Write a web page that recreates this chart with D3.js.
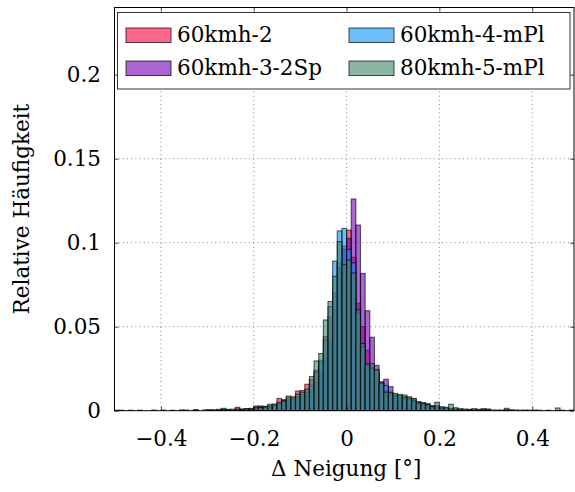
<!DOCTYPE html>
<html>
<head>
<meta charset="utf-8">
<script src="https://cdn.jsdelivr.net/npm/d3@7"></script>
<style>
  body { margin: 0; background: #fff; }
  svg text { font-family: "DejaVu Serif", "Liberation Serif", serif; }
</style>
</head>
<body>
<svg id="chart" width="575" height="492"></svg>
<script>
// Histogram bins: 100 bins of width 0.01 starting at -0.5
const binFirst = -0.5;
const binWidth = 0.01;

const seriesNames = ["60kmh-2", "60kmh-3-2Sp", "60kmh-4-mPl", "80kmh-5-mPl"];

// Relative frequency per bin, bins from -0.50 to +0.49
const freq60kmh2 = [
  0, 0.0003, 0, 0, 0, 0, 0, 0, 0, 0,
  0.0004, 0, 0, 0, 0, 0.0004, 0, 0, 0, 0,
  0.0004, 0.0006, 0, 0.0006, 0.0008, 0, 0.0020, 0.0010, 0.0012, 0.0014,
  0.0028, 0.0028, 0.0026, 0.0030, 0.0036, 0.0073, 0.0066, 0.0080, 0.0078, 0.0117,
  0.0120, 0.0157, 0.0185, 0.0240, 0.0290, 0.0440, 0.0560, 0.0700, 0.0880, 0.0980,
  0.1075, 0.0913, 0.0640, 0.0500, 0.0360, 0.0260, 0.0220, 0.0150, 0.0120, 0.0100,
  0.0085, 0.0080, 0.0085, 0.0068, 0.0062, 0.0042, 0.0040, 0.0030, 0.0024, 0.0020,
  0.0018, 0.0012, 0.0012, 0.0008, 0.0006, 0, 0.0006, 0, 0.0005, 0.0008,
  0, 0, 0.0004, 0, 0, 0, 0, 0.0003, 0, 0,
  0, 0, 0, 0.0003, 0, 0, 0, 0, 0, 0
];
const freq60kmh3 = [
  0, 0, 0, 0, 0, 0.0003, 0, 0, 0, 0,
  0, 0, 0, 0, 0, 0, 0, 0.0006, 0, 0,
  0, 0, 0, 0, 0, 0.0005, 0, 0.0006, 0, 0.0008,
  0.0010, 0.0022, 0.0022, 0.0022, 0.0028, 0.0036, 0.0044, 0.0052, 0.0058, 0.0068,
  0.0080, 0.0092, 0.0118, 0.0170, 0.0230, 0.0320, 0.0420, 0.0600, 0.0850, 0.0960,
  0.1026, 0.1260, 0.1105, 0.0817, 0.0595, 0.0437, 0.0270, 0.0173, 0.0187, 0.0143,
  0.0095, 0.0085, 0.0080, 0.0078, 0.0070, 0.0054, 0.0048, 0.0042, 0.0030, 0.0024,
  0.0016, 0.0016, 0.0010, 0.0008, 0.0008, 0, 0.0008, 0, 0, 0.0012,
  0.0010, 0, 0, 0, 0, 0.0006, 0, 0, 0, 0,
  0.0004, 0, 0, 0, 0, 0, 0, 0, 0, 0
];
const freq60kmh4 = [
  0, 0, 0, 0.0003, 0, 0, 0, 0, 0, 0,
  0, 0, 0.0003, 0, 0, 0, 0, 0, 0, 0.0005,
  0, 0, 0.0004, 0.0014, 0, 0, 0.0006, 0, 0.0008, 0,
  0.0014, 0.0016, 0.0018, 0.0026, 0.0032, 0.0042, 0.0060, 0.0064, 0.0068, 0.0082,
  0.0096, 0.0110, 0.0150, 0.0230, 0.0300, 0.0420, 0.0620, 0.0890, 0.1070, 0.1085,
  0.0960, 0.0880, 0.0580, 0.0380, 0.0270, 0.0250, 0.0240, 0.0160, 0.0150, 0.0105,
  0.0090, 0.0090, 0.0075, 0.0070, 0.0058, 0.0045, 0.0036, 0.0030, 0.0022, 0.0030,
  0.0012, 0.0014, 0.0010, 0.0010, 0, 0.0006, 0, 0.0008, 0, 0,
  0, 0, 0, 0, 0.0014, 0, 0, 0, 0, 0.0003,
  0, 0, 0, 0, 0, 0, 0.0003, 0, 0, 0
];
const freq80kmh5 = [
  0.0003, 0, 0, 0, 0, 0, 0, 0, 0.0004, 0,
  0, 0, 0, 0, 0.0005, 0, 0, 0.0004, 0, 0,
  0.0006, 0, 0.0008, 0.0008, 0.0006, 0.0009, 0.0010, 0.0008, 0.0012, 0.0010,
  0.0020, 0.0020, 0.0024, 0.0038, 0.0040, 0.0050, 0.0056, 0.0087, 0.0083, 0.0098,
  0.0110, 0.0128, 0.0203, 0.0296, 0.0340, 0.0540, 0.0650, 0.0800, 0.1006, 0.0870,
  0.0897, 0.0820, 0.0600, 0.0400, 0.0280, 0.0280, 0.0245, 0.0165, 0.0110, 0.0110,
  0.0103, 0.0097, 0.0093, 0.0083, 0.0073, 0.0050, 0.0046, 0.0038, 0.0026, 0.0050,
  0.0024, 0.0020, 0.0038, 0.0018, 0.0012, 0.0010, 0, 0.0012, 0.0008, 0,
  0.0006, 0.0004, 0, 0.0004, 0.0006, 0, 0.0004, 0, 0.0004, 0,
  0, 0.0003, 0, 0, 0, 0.0016, 0, 0, 0.0004, 0
];

const xTicks = [-0.4, -0.2, 0, 0.2, 0.4];
const yTicks = [0, 0.05, 0.1, 0.15, 0.2];
const colors = ["#ff0040", "#7100b4", "#0d93f7", "#3e8764"];

const series = [freq60kmh2, freq60kmh3, freq60kmh4, freq80kmh5];

const FONT = '"DejaVu Serif", "Liberation Serif", serif';
const FS = 21.5;

const svg = d3.select("#chart");
const L = 114.5, R = 574, T = 7.5, B = 410.7;

const x = d3.scaleLinear().domain([-0.5, 0.49]).range([L, R]);
const y = d3.scaleLinear().domain([0, 0.24]).range([B, T]);

svg.append("defs").append("clipPath").attr("id", "plotclip")
  .append("rect").attr("x", L).attr("y", T).attr("width", R - L).attr("height", B - T);

// dotted grid
const grid = svg.append("g").attr("stroke", "#555").attr("stroke-width", 0.8)
  .attr("stroke-dasharray", "0.9,3.3");
grid.selectAll("line.gx").data(xTicks).join("line")
  .attr("x1", d => x(d)).attr("x2", d => x(d)).attr("y1", T).attr("y2", B);
grid.selectAll("line.gy").data(yTicks.filter(d => d > 0)).join("line")
  .attr("x1", L).attr("x2", R).attr("y1", d => y(d)).attr("y2", d => y(d));

// bars, one layer per series
const bars = svg.append("g").attr("clip-path", "url(#plotclip)");
series.forEach((vals, si) => {
  const data = vals.map((v, i) => ({ x0: binFirst + i * binWidth, v }))
    .filter(d => d.v > 0);
  bars.append("g")
    .selectAll("rect").data(data).join("rect")
    .attr("x", d => x(d.x0))
    .attr("width", d => x(d.x0 + binWidth) - x(d.x0))
    .attr("y", d => y(d.v))
    .attr("height", d => y(0) - y(d.v))
    .attr("fill", colors[si]).attr("fill-opacity", 0.6)
    .attr("stroke", "#000").attr("stroke-opacity", 0.6).attr("stroke-width", 1.15);
});

// axes with inward ticks on all sides
const fmt = d => (d < 0 ? "\u2212" : "") + String(Math.abs(d));
const gx = svg.append("g").attr("transform", `translate(0,${B})`)
  .call(d3.axisBottom(x).tickValues(xTicks).tickSize(-4).tickPadding(20).tickFormat(fmt));
const gy = svg.append("g").attr("transform", `translate(${L},0)`)
  .call(d3.axisLeft(y).tickValues(yTicks).tickSize(-4).tickPadding(13.5).tickFormat(fmt));
const gxt = svg.append("g").attr("transform", `translate(0,${T})`)
  .call(d3.axisTop(x).tickValues(xTicks).tickSize(-4).tickFormat(""));
const gyr = svg.append("g").attr("transform", `translate(${R},0)`)
  .call(d3.axisRight(y).tickValues(yTicks).tickSize(-4).tickFormat(""));
[gx, gy, gxt, gyr].forEach(g => {
  g.attr("font-family", FONT);
  g.select(".domain").remove();
  g.selectAll(".tick line").attr("stroke", "#000").attr("stroke-width", 0.7);
  g.selectAll("text").attr("font-size", FS).attr("fill", "#000");
});

// axis frame
svg.append("rect").attr("x", L).attr("y", T).attr("width", R - L).attr("height", B - T)
  .attr("fill", "none").attr("stroke", "#000").attr("stroke-width", 1);

// axis titles
svg.append("text").attr("x", (L + R) / 2 + 2).attr("y", 476).attr("text-anchor", "middle")
  .attr("font-family", FONT).attr("font-size", FS).text("\u0394 Neigung [\u00B0]");
svg.append("text").attr("transform", `translate(29,${(T + B) / 2}) rotate(-90)`)
  .attr("text-anchor", "middle").attr("font-family", FONT).attr("font-size", FS)
  .text("Relative H\u00E4ufigkeit");

// legend (two columns)
const legend = svg.append("g");
legend.append("rect").attr("x", 117.5).attr("y", 12.5).attr("width", 452.5).attr("height", 76.5)
  .attr("fill", "#fff").attr("stroke", "#333").attr("stroke-width", 1);
const legendPos = [[126, 28], [126, 61], [349, 28], [349, 61]];
seriesNames.forEach((name, i) => {
  const [lx, ly] = legendPos[i];
  legend.append("rect").attr("x", lx).attr("y", ly).attr("width", 45).attr("height", 14.5)
    .attr("fill", colors[i]).attr("fill-opacity", 0.6)
    .attr("stroke", "#000").attr("stroke-opacity", 0.7).attr("stroke-width", 1);
  legend.append("text").attr("x", lx + 51).attr("y", ly + 14)
    .attr("font-family", FONT).attr("font-size", FS).text(name);
});
</script>
</body>
</html>
